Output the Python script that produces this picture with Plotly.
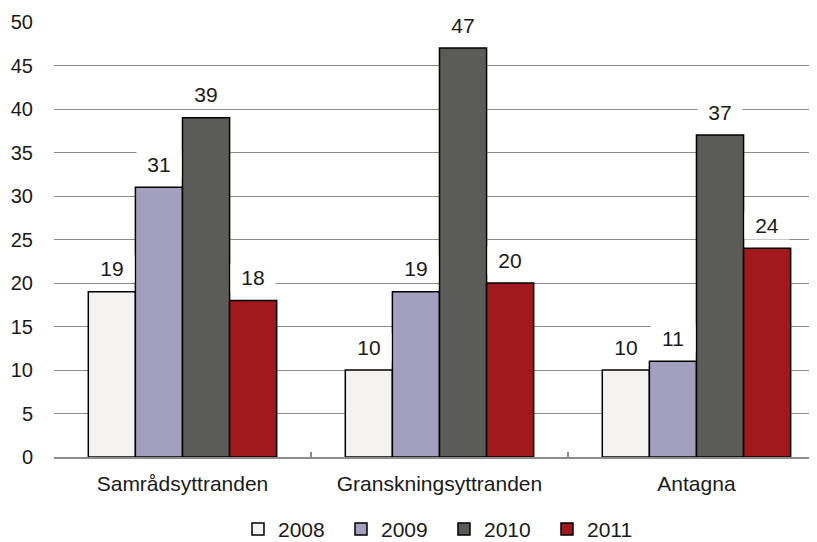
import plotly.graph_objects as go

categories = ["Samrådsyttranden", "Granskningsyttranden", "Antagna"]
series_names = ["2008", "2009", "2010", "2011"]
v2008 = [19, 10, 10]
v2009 = [31, 19, 11]
v2010 = [39, 47, 37]
v2011 = [18, 20, 24]
values = [v2008, v2009, v2010, v2011]
colors = ["#f4f3f1", "#a39fbf", "#5b5b57", "#a1181d"]
y_ticks = [0, 5, 10, 15, 20, 25, 30, 35, 40, 45, 50]

FONT = "Liberation Sans, Arial, sans-serif"
FS = 21
bargap = 0.267

fig = go.Figure()
for name, vals, col in zip(series_names, values, colors):
    fig.add_trace(go.Bar(
        x=categories, y=vals, name=name,
        marker=dict(color=col, line=dict(color="#000000", width=1.5)),
    ))

# data labels with white background
n = len(series_names)
bw = (1 - bargap) / n
annotations = []
for i, vals in enumerate(values):
    for j, v in enumerate(vals):
        xpos = j - (1 - bargap) / 2 + (i + 0.5) * bw
        annotations.append(dict(
            x=xpos, y=v, xref="x", yref="y", text=str(v), showarrow=False,
            yanchor="middle", yshift=23, bgcolor="#ffffff",
            font=dict(size=FS, color="#1a1a1a", family=FONT),
            width=40, borderpad=2,
        ))

fig.update_layout(
    width=817, height=542,
    margin=dict(l=46, r=8, t=14, b=93),
    paper_bgcolor="#ffffff", plot_bgcolor="#ffffff",
    barmode="group", bargap=bargap, bargroupgap=0,
    font=dict(family=FONT, size=FS, color="#1a1a1a"),
    annotations=annotations,
    showlegend=True,
    legend=dict(orientation="h", x=0.2815, xanchor="left", xref="container",
                y=0.038, yanchor="middle", yref="container",
                font=dict(size=FS, family=FONT), entrywidth=58, entrywidthmode="pixels",
                itemclick=False, traceorder="normal"),
    xaxis=dict(
        type="category", range=[-0.5, 2.469], automargin=False,
        showgrid=False, showline=True, linecolor="#8c8c8c", linewidth=1.5,
        ticks="inside", tickson="boundaries", ticklen=5, tickcolor="#8c8c8c", tickwidth=1.5,
        ticklabelstandoff=7,
        tickfont=dict(size=FS, family=FONT, color="#1a1a1a"),
    ),
    yaxis=dict(
        range=[0, 50], tickvals=y_ticks, showgrid=True, gridcolor="#8c8c8c", gridwidth=1.3,
        showline=False, zeroline=False, ticks="", ticklabelstandoff=20, automargin=False,
        tickfont=dict(size=20, family=FONT, color="#1a1a1a"),
    ),
)

fig.write_html("out.html")
